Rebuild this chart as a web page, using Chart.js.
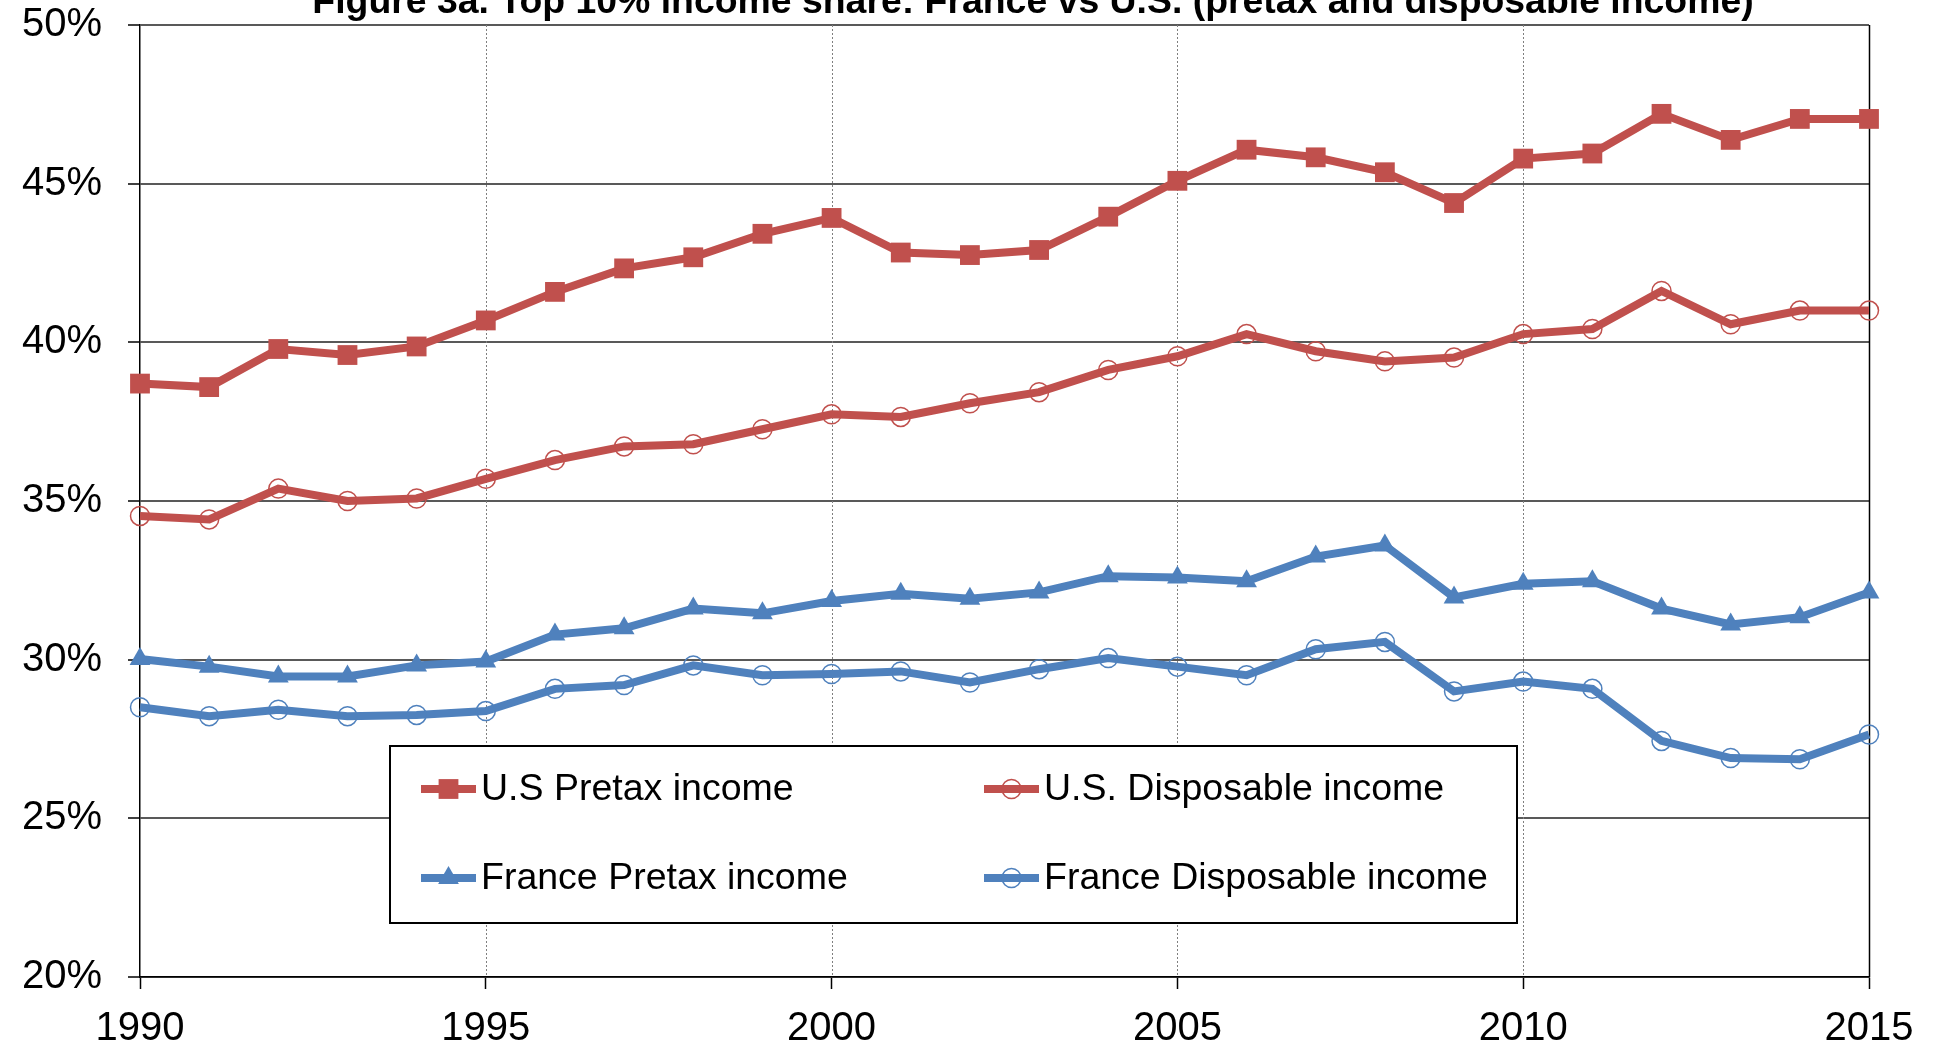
<!DOCTYPE html>
<html>
<head>
<meta charset="utf-8">
<script src="https://cdn.jsdelivr.net/npm/chart.js@4.4.1/dist/chart.umd.min.js"></script>
<style>
  html, body { margin: 0; padding: 0; background: #fff; }
</style>
</head>
<body>
<canvas id="chart" width="1940" height="1049"></canvas>
<script>
// Data
const years = [1990, 1991, 1992, 1993, 1994, 1995, 1996, 1997, 1998, 1999, 2000, 2001, 2002,
               2003, 2004, 2005, 2006, 2007, 2008, 2009, 2010, 2011, 2012, 2013, 2014, 2015];
const usPretax = [38.70, 38.59, 39.79, 39.60, 39.87, 40.69, 41.59, 42.33, 42.68, 43.42, 43.92, 42.83, 42.75,
                  42.91, 43.96, 45.09, 46.07, 45.83, 45.36, 44.39, 45.79, 45.95, 47.20, 46.38, 47.04, 47.04];
const usDisposable = [34.53, 34.42, 35.39, 35.00, 35.08, 35.70, 36.29, 36.72, 36.79, 37.26, 37.73, 37.65, 38.08,
                      38.43, 39.13, 39.56, 40.26, 39.72, 39.40, 39.52, 40.26, 40.42, 41.62, 40.57, 41.00, 41.00];
const frPretax = [30.02, 29.78, 29.47, 29.47, 29.82, 29.94, 30.79, 30.99, 31.61, 31.46, 31.85, 32.08, 31.92,
                  32.12, 32.63, 32.59, 32.47, 33.25, 33.60, 31.96, 32.39, 32.47, 31.61, 31.11, 31.34, 32.12];
const frDisposable = [28.50, 28.22, 28.42, 28.22, 28.26, 28.38, 29.08, 29.20, 29.82, 29.51, 29.55, 29.63, 29.28,
                      29.70, 30.05, 29.78, 29.51, 30.33, 30.56, 29.00, 29.31, 29.08, 27.44, 26.90, 26.86, 27.64];
const seriesNames = ['U.S Pretax income', 'U.S. Disposable income', 'France Pretax income', 'France Disposable income'];
const titleText = 'Figure 3a. Top 10% income share: France vs U.S. (pretax and disposable income)';

const RED = '#C0504D';
const BLUE = '#4F81BD';
const FONT = '"Liberation Sans", Arial, sans-serif';

function pts(vals) {
    return years.map((y, i) => ({ x: y, y: vals[i] }));
}

function makeSet(label, vals, color, style, radius, filled) {
    return {
        label: label,
        data: pts(vals),
        borderColor: color,
        backgroundColor: color,
        borderWidth: 8,
        tension: 0,
        pointStyle: style,
        pointRadius: radius,
        pointBackgroundColor: filled ? color : 'rgba(0,0,0,0)',
        pointBorderColor: color,
        pointBorderWidth: filled ? 0 : 1.5,
        clip: false
    };
}

// Title, partly cut at the top like the reference
const titlePlugin = {
    id: 'topTitle',
    afterDraw(chart) {
        const ctx = chart.ctx;
        ctx.save();
        ctx.font = 'bold 37.4px ' + FONT;
        ctx.fillStyle = '#000';
        ctx.textAlign = 'center';
        ctx.textBaseline = 'alphabetic';
        ctx.fillText(titleText, 1033, 13);
        ctx.restore();
    }
};

// Vertical dotted lines at the 5-year ticks, solid line at the right edge
const vLinesPlugin = {
    id: 'vLines',
    beforeDatasetsDraw(chart) {
        const ctx = chart.ctx;
        const xs = chart.scales.x;
        const area = chart.chartArea;
        ctx.save();
        xs.ticks.forEach(t => {
            if (t.value === 1990) return;
            const px = Math.round(xs.getPixelForValue(t.value)) + 0.5;
            ctx.beginPath();
            if (t.value === 2015) {
                ctx.setLineDash([]);
                ctx.strokeStyle = '#000';
                ctx.lineWidth = 1.5;
            } else {
                ctx.setLineDash([2, 2]);
                ctx.strokeStyle = '#7f7f7f';
                ctx.lineWidth = 1;
            }
            ctx.moveTo(px, area.top);
            ctx.lineTo(px, area.bottom);
            ctx.stroke();
        });
        ctx.restore();
    }
};

// Boxed legend inside the plot, two columns
const legendPlugin = {
    id: 'boxLegend',
    afterDraw(chart) {
        const ctx = chart.ctx;
        const box = { x: 390, y: 746, w: 1127, h: 177 };
        const cols = [421, 984];
        const rows = [789, 878];
        ctx.save();
        ctx.fillStyle = '#fff';
        ctx.fillRect(box.x, box.y, box.w, box.h);
        ctx.strokeStyle = '#000';
        ctx.lineWidth = 2;
        ctx.strokeRect(box.x, box.y, box.w, box.h);
        chart.data.datasets.forEach((ds, i) => {
            const x0 = cols[i % 2];
            const y0 = rows[Math.floor(i / 2)];
            ctx.beginPath();
            ctx.strokeStyle = ds.borderColor;
            ctx.lineWidth = ds.borderWidth;
            ctx.moveTo(x0, y0);
            ctx.lineTo(x0 + 55, y0);
            ctx.stroke();
            ctx.fillStyle = ds.pointBackgroundColor;
            ctx.strokeStyle = ds.pointBorderColor;
            ctx.lineWidth = ds.pointBorderWidth;
            Chart.helpers.drawPoint(ctx, {
                pointStyle: ds.pointStyle,
                radius: ds.pointRadius,
                rotation: 0,
                borderWidth: ds.pointBorderWidth
            }, x0 + 27.5, y0);
            ctx.fillStyle = '#000';
            ctx.font = '37.5px ' + FONT;
            ctx.textAlign = 'left';
            ctx.textBaseline = 'middle';
            ctx.fillText(ds.label, x0 + 60, y0 + 1);
        });
        ctx.restore();
    }
};

const chart = new Chart(document.getElementById('chart'), {
    type: 'line',
    data: {
        datasets: [
            makeSet(seriesNames[0], usPretax, RED, 'rect', 14, true),
            makeSet(seriesNames[1], usDisposable, RED, 'circle', 9.5, false),
            makeSet(seriesNames[2], frPretax, BLUE, 'triangle', 12, true),
            makeSet(seriesNames[3], frDisposable, BLUE, 'circle', 9.5, false)
        ]
    },
    options: {
        responsive: false,
        animation: false,
        layout: { padding: { top: 25, right: 71, left: 0, bottom: 0 } },
        plugins: {
            legend: { display: false },
            tooltip: { enabled: false }
        },
        scales: {
            x: {
                type: 'linear',
                min: 1990,
                max: 2015,
                ticks: {
                    stepSize: 5,
                    color: '#000',
                    font: { family: FONT, size: 40 },
                    padding: 16,
                    maxRotation: 0,
                    callback: v => String(v)
                },
                grid: {
                    drawOnChartArea: false,
                    tickLength: 12,
                    tickColor: '#000',
                    tickWidth: 1.5
                },
                border: { color: '#000', width: 1.5 },
                afterFit(s) {
                    s.height = 72;
                    s.paddingLeft = 0;
                    s.paddingRight = 0;
                }
            },
            y: {
                min: 20,
                max: 50,
                ticks: {
                    stepSize: 5,
                    color: '#000',
                    font: { family: FONT, size: 40 },
                    padding: 26,
                    callback: v => v + '%'
                },
                grid: {
                    color: '#595959',
                    lineWidth: 2,
                    tickLength: 12,
                    tickColor: '#000',
                    tickWidth: 1.5
                },
                border: { color: '#000', width: 1.5 },
                afterFit(s) {
                    s.width = 140;
                    s.paddingTop = 0;
                    s.paddingBottom = 0;
                }
            }
        }
    },
    plugins: [vLinesPlugin, titlePlugin, legendPlugin]
});
</script>
</body>
</html>
